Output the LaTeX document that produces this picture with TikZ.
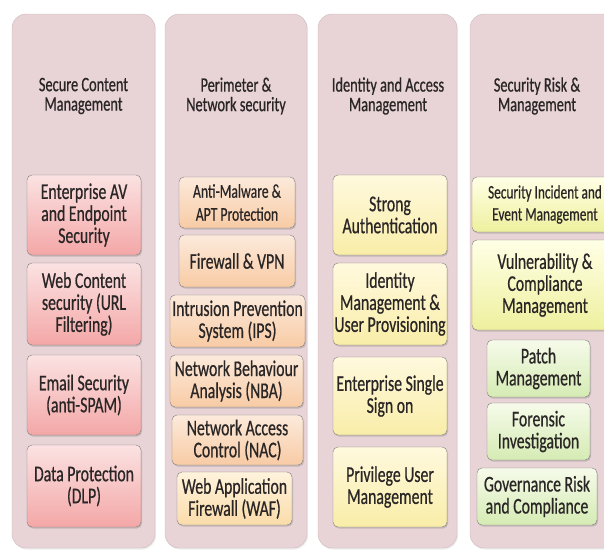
\documentclass[tikz,border=0pt]{standalone}
\usepackage{fontspec}
\setsansfont{Carlito}[FakeStretch=0.7, FakeBold=0.6]
\usetikzlibrary{shadows}

\definecolor{panelpink}{HTML}{E8D3D6}
\definecolor{inktext}{HTML}{2A2626}
\definecolor{redtop}{HTML}{FBE2E2}
\definecolor{redbot}{HTML}{F4A7A7}
\definecolor{orangetop}{HTML}{FCEADB}
\definecolor{orangebot}{HTML}{F8CBA5}
\definecolor{waftop}{HTML}{FFF3DD}
\definecolor{wafbot}{HTML}{FADCAA}
\definecolor{goldtop}{HTML}{FFF9DE}
\definecolor{goldbot}{HTML}{F9EDA8}
\definecolor{limetop}{HTML}{FFFFE6}
\definecolor{limebot}{HTML}{EEF09E}
\definecolor{greentop}{HTML}{F6FBEA}
\definecolor{greenbot}{HTML}{D5EBB3}

\begin{document}
\begin{tikzpicture}[
		x=1pt, y=-1pt,
		font=\sffamily,
		every node/.style={
				font=\sffamily\fontsize{22.5}{22}\selectfont,
				text=inktext, align=center, inner sep=0pt,
			},
		panel/.style={draw=panelpink!88!black, fill=panelpink, rounded corners=14pt,
				drop shadow={opacity=0.15, shadow xshift=1pt, shadow yshift=-1.5pt}},
		title/.style={font=\sffamily\fontsize{20.5}{19.5}\selectfont},
		item/.style={draw=black!50, rounded corners=5pt,
				drop shadow={opacity=0.35, shadow xshift=1pt, shadow yshift=-1.5pt}},
		redbox/.style={item, top color=redtop, bottom color=redbot},
		orangebox/.style={item, top color=orangetop, bottom color=orangebot},
		wafbox/.style={item, top color=waftop, bottom color=wafbot},
		goldbox/.style={item, top color=goldtop, bottom color=goldbot},
		limebox/.style={item, top color=limetop, bottom color=limebot},
		greenbox/.style={item, top color=greentop, bottom color=greenbot},
	]
	\useasboundingbox (0,0) rectangle (604,554);
	\clip (0,0) rectangle (604,554);

	% columns
	\node[panel, minimum width=143, minimum height=534] (col1) at (83.5,281) {};
	\node[panel, minimum width=142, minimum height=534] (col2) at (236,281) {};
	\node[panel, minimum width=139, minimum height=534] (col3) at (387.5,281) {};
	\node[panel, minimum width=150, minimum height=534] (col4) at (545,281) {};

	\node[title] (head1) at (83.5,96) {Secure Content\\Management};
	\node[title] (head2) at (236,96) {Perimeter \&\\Network security};
	\node[title] (head3) at (388,96) {Identity and Access\\Management};
	\node[title] (head4) at (537,96) {Security Risk \&\\Management};

	% secure content
	\node[redbox, minimum width=114, minimum height=80] (av) at (84,215) {Enterprise AV\\and Endpoint\\Security};
	\node[redbox, minimum width=114, minimum height=82] (url) at (84,304) {Web Content\\security (URL\\Filtering)};
	\node[redbox, minimum width=114, minimum height=80] (spam) at (84,395) {Email Security\\(anti-SPAM)};
	\node[redbox, minimum width=114, minimum height=82] (dlp) at (84,486) {Data Protection\\(DLP)};

	% perimeter
	\node[orangebox, minimum width=116, minimum height=51,
		font=\sffamily\fontsize{19.5}{23}\selectfont] (apt) at (237,202.5) {Anti-Malware \&\\APT Protection};
	\node[orangebox, minimum width=116, minimum height=52] (fw) at (237,261) {Firewall \& VPN};
	\node[orangebox, minimum width=135, minimum height=52] (ips) at (237.5,321) {Intrusion Prevention\\System (IPS)};
	\node[orangebox, minimum width=133, minimum height=52] (nba) at (236.5,381) {Network Behaviour\\Analysis (NBA)};
	\node[orangebox, minimum width=131, minimum height=50] (nac) at (237.5,440) {Network Access\\Control (NAC)};
	\node[wafbox, minimum width=115, minimum height=53] (waf) at (234.5,498.5) {Web Application\\Firewall (WAF)};

	% identity
	\node[goldbox, minimum width=114, minimum height=80] (auth) at (390,215) {Strong\\Authentication};
	\node[goldbox, minimum width=114, minimum height=82] (prov) at (390,304) {Identity\\Management \&\\User Provisioning};
	\node[goldbox, minimum width=114, minimum height=78] (sso) at (390,396) {Enterprise Single\\Sign on};
	\node[goldbox, minimum width=114, minimum height=80] (priv) at (390,487) {Privilege User\\Management};

	% risk
	\node[limebox, minimum width=146, minimum height=55,
		font=\sffamily\fontsize{19}{22}\selectfont] (siem) at (545,204.5) {Security Incident and\\Event Management};
	\node[limebox, minimum width=146, minimum height=90] (vuln) at (545,285) {Vulnerability \&\\Compliance\\Management};
	\node[greenbox, minimum width=103, minimum height=57] (patch) at (538.5,368.5) {Patch\\Management};
	\node[greenbox, minimum width=103, minimum height=57] (fore) at (538.5,431.5) {Forensic\\Investigation};
	\node[greenbox, minimum width=120, minimum height=57] (grc) at (537,496.5) {Governance Risk\\and Compliance};
\end{tikzpicture}
\end{document}
